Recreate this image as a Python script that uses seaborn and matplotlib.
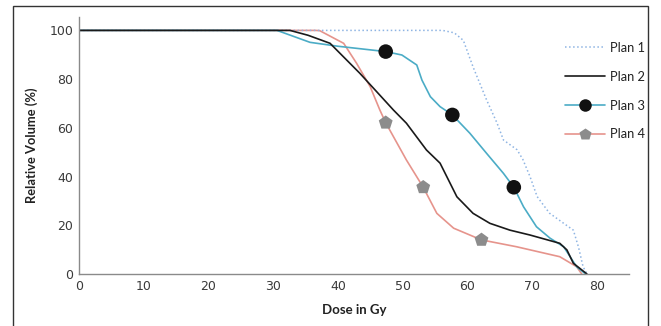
import matplotlib
matplotlib.use("Agg")
import matplotlib.pyplot as plt
from matplotlib.lines import Line2D
from matplotlib.patches import Rectangle
import seaborn as sns
import pandas as pd

# Dose-volume curves (dose in Gy, relative volume in %)
plan1_dose = [0, 56.2, 58.0, 59.4, 60.9, 63.0, 64.6, 65.6, 67.7, 68.6, 69.7, 70.8, 72.7, 74.8, 76.4, 77.2, 77.9, 78.5]
plan1_vol = [100, 100, 99, 95.9, 85, 71.4, 62, 55, 51, 47, 40, 31.8, 25, 21, 18, 11, 3, 0]

plan2_dose = [0, 32.6, 35.4, 38.8, 43.4, 48.6, 50.6, 53.7, 55.8, 57.1, 58.4, 60.9, 63.5, 66.6, 69.7, 74.3, 75.4, 76.4, 78.5]
plan2_vol = [100, 100, 98, 94.7, 82.4, 67.3, 61.9, 50.9, 45.5, 38.6, 31.7, 24.9, 20.8, 18, 16, 12.6, 9.9, 4.4, 0]

plan3_dose = [0, 30.6, 35.7, 40, 47.4, 49.9, 52.2, 53, 54.3, 55.8, 57.7, 60.4, 63, 65.6, 67.2, 68.7, 70.7, 72.8, 74.9, 76.9, 78.3]
plan3_vol = [100, 100, 95.1, 93.5, 91.3, 89.9, 85.8, 79.6, 72.8, 68.7, 65.3, 57.8, 49.5, 41.3, 35.6, 27.6, 19.4, 14.7, 11.2, 3, 0]
plan3_mark_dose = [47.4, 57.7, 67.2]
plan3_mark_vol = [91.3, 65.3, 35.6]

plan4_dose = [0, 36.5, 37.2, 40.9, 42.9, 45, 46.5, 47.4, 50.6, 53.2, 55.3, 57.9, 62.2, 67.6, 74.3, 76.9, 77.7]
plan4_vol = [100, 100, 99.9, 94.7, 86.5, 76.9, 67.3, 62.1, 46.8, 35.6, 24.9, 18.8, 14, 11.2, 7.1, 3, 0]
plan4_mark_dose = [47.4, 53.2, 62.2]
plan4_mark_vol = [62.1, 35.6, 14]

c1 = "#8eb4e3"
c2 = "#1a1a1a"
c3 = "#4bacc6"
c4 = "#e6948c"
mark_gray = "#8c8c8c"

sns.set_style("white")
plt.rcParams["font.family"] = ["DejaVu Sans"]

fig = plt.figure(figsize=(6.61, 3.26), dpi=100)
ax = fig.add_axes([79 / 661, 1 - 274 / 326, (629 - 79) / 661, (274 - 17) / 326])

sns.lineplot(x=plan4_dose, y=plan4_vol, color=c4, linewidth=1.2, ax=ax)
sns.lineplot(x=plan1_dose, y=plan1_vol, color=c1, linewidth=1.1, linestyle=":", ax=ax)
sns.lineplot(x=plan3_dose, y=plan3_vol, color=c3, linewidth=1.2, ax=ax)
sns.lineplot(x=plan2_dose, y=plan2_vol, color=c2, linewidth=1.2, ax=ax)
sns.scatterplot(x=plan3_mark_dose, y=plan3_mark_vol, color="#111111", marker="o",
                s=110, edgecolor="none", ax=ax, zorder=5)
sns.scatterplot(x=plan4_mark_dose, y=plan4_mark_vol, color=mark_gray, marker="p",
                s=110, edgecolor="none", ax=ax, zorder=5)

ax.set_xlim(0, 85)
ax.set_ylim(0, 105.5)
ax.set_xticks(range(0, 81, 10))
ax.set_yticks(range(0, 101, 20))
ax.tick_params(axis="both", length=0, labelsize=9, colors="#3a3a3a", pad=4)
for s in ["top", "right"]:
    ax.spines[s].set_visible(False)
for s in ["left", "bottom"]:
    ax.spines[s].set_color("#8a8a8a")
    ax.spines[s].set_linewidth(1.0)

ax.set_xlabel("Dose in Gy", fontsize=9.5, fontweight="bold", family="Lato", color="#222222", labelpad=8)
ax.set_ylabel("Relative Volume (%)", fontsize=9.3, fontweight="bold", family="Lato", color="#222222", labelpad=8)

handles = [
    Line2D([], [], color=c1, linestyle=":", linewidth=1.1),
    Line2D([], [], color=c2, linewidth=1.2),
    Line2D([], [], color=c3, linewidth=1.2, marker="o", markersize=9, markerfacecolor="#111111", markeredgecolor="none"),
    Line2D([], [], color=c4, linewidth=1.2, marker="p", markersize=9, markerfacecolor=mark_gray, markeredgecolor="none"),
]
labels = ["Plan 1", "Plan 2", "Plan 3", "Plan 4"]
leg = fig.legend(handles, labels, loc="upper left", bbox_to_anchor=(565 / 661, 1 - 42 / 326),
                 frameon=False, borderpad=0, borderaxespad=0, handlelength=3.1, handletextpad=0.35,
                 labelspacing=1.3, prop={"family": "Lato", "size": 9.3})
for t in leg.get_texts():
    t.set_color("#222222")

fig.patches.append(Rectangle((13 / 661, -0.1), (648 - 13) / 661, 1.1 - 6 / 326, transform=fig.transFigure,
                             fill=False, edgecolor="#333333", linewidth=1.0))

fig.savefig("out.png", dpi=100)
